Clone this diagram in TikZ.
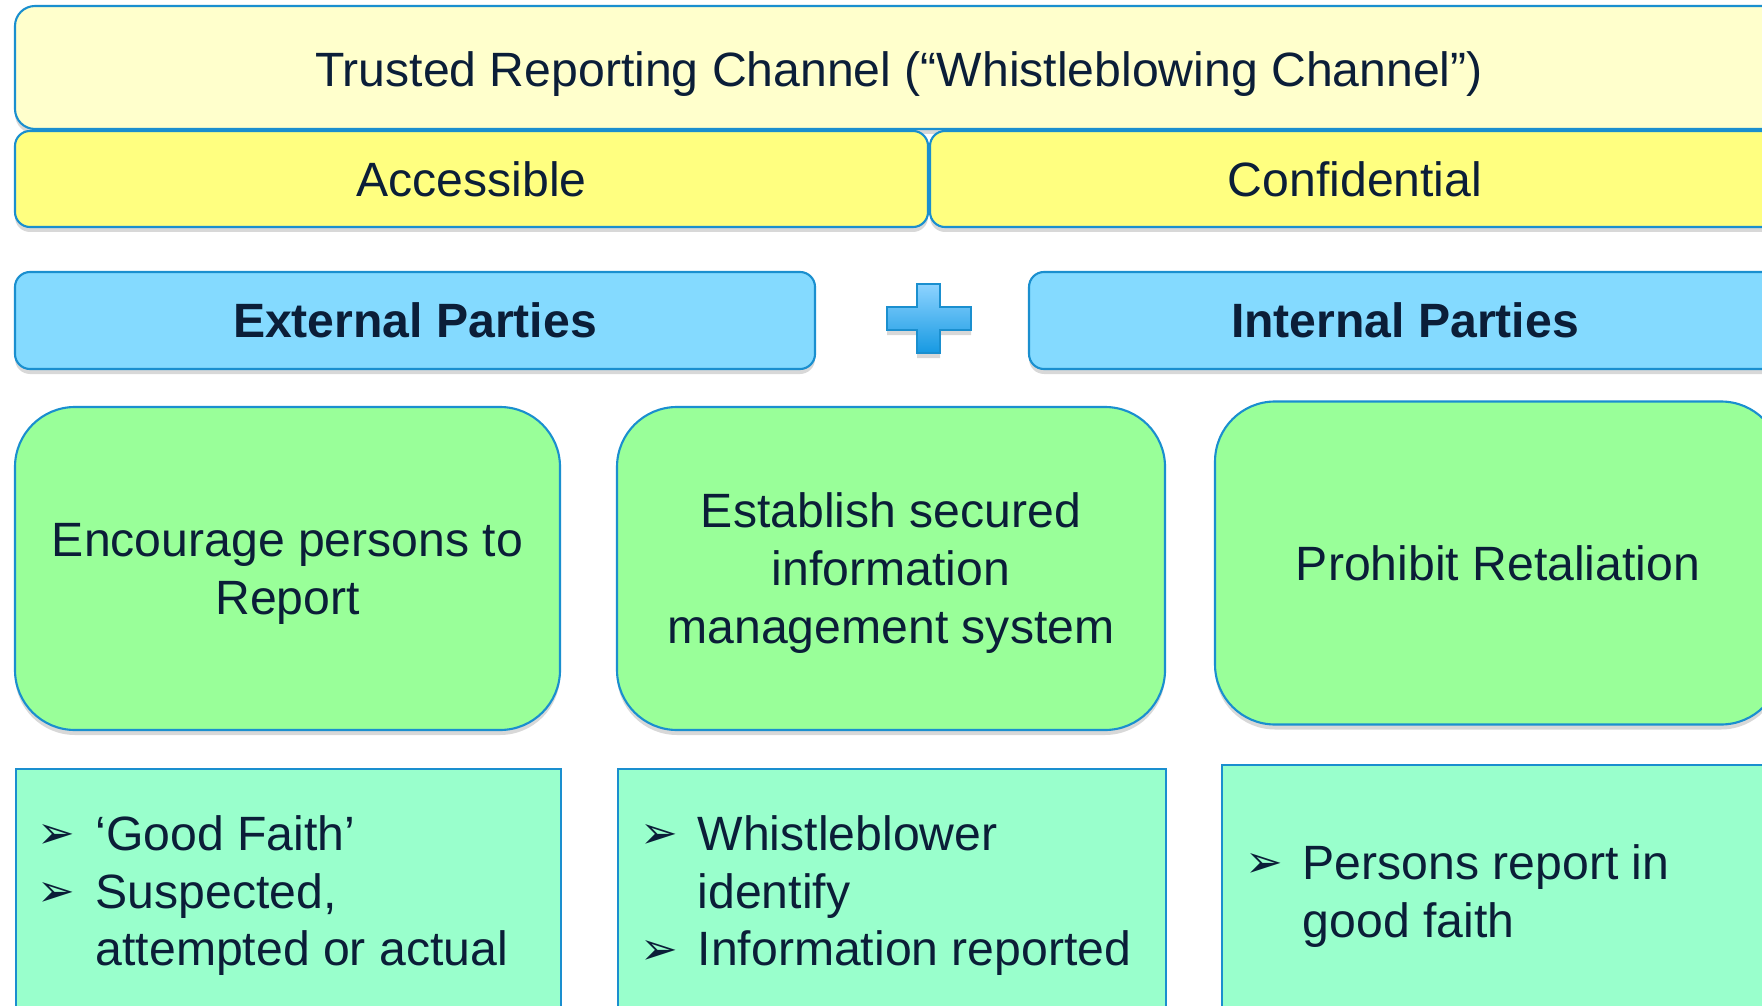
\documentclass[tikz,border=0pt]{standalone}
\usepackage{fontspec}
\setmainfont{Liberation Sans}
\newfontfamily\dingfont{DejaVu Sans}
\usetikzlibrary{shadows}

\definecolor{ink}{HTML}{0B1E38}
\definecolor{edge}{HTML}{1A8FCF}
\definecolor{paleyellow}{HTML}{FFFFCC}
\definecolor{brightyellow}{HTML}{FFFF80}
\definecolor{skyblue}{HTML}{84DAFF}
\definecolor{leafgreen}{HTML}{99FF99}
\definecolor{mintgreen}{HTML}{99FFCC}
\definecolor{plustop}{HTML}{8DD3FF}
\definecolor{plusbot}{HTML}{1699E2}

\newcommand\slidefont{\fontsize{13.7}{16.5}\selectfont}
\newcommand\arrowbullet{\raisebox{0.3pt}{\dingfont\fontsize{12.8}{14}\selectfont ➢}}

\tikzset{
  panel/.style={draw=edge, line width=0.6pt, rounded corners=0.2cm, inner sep=0pt,
    text=ink, font=\slidefont,
    drop shadow={shadow xshift=0pt, shadow yshift=-0.05cm, opacity=0.3}},
  header/.style={panel, fill=paleyellow, minimum height=1.23cm, text height=0.38cm, text depth=0pt},
  pillar/.style={panel, fill=brightyellow, minimum height=0.96cm, rounded corners=0.15cm},
  party/.style={panel, fill=skyblue, minimum height=0.97cm, rounded corners=0.15cm,
    font=\slidefont\bfseries},
  goal/.style={panel, fill=leafgreen, minimum height=3.23cm, rounded corners=0.6cm, align=center,
    text depth=0pt},
  detail/.style={panel, fill=mintgreen, rounded corners=0pt, minimum height=3.5cm, anchor=north west},
  points/.style={anchor=base west, text=ink, font=\slidefont, inner sep=0pt},
}

\begin{document}
\begin{tikzpicture}
    \path[use as bounding box, fill=white] (0,0) rectangle (17.62,-10.05);

    % channel and its two pillars
    \node[header, minimum width=17.68cm] (head) at (8.99,-0.675)
        {Trusted Reporting Channel (“Whistleblowing Channel”)};
    \node[pillar, minimum width=9.13cm] (acc) at (4.715,-1.79) {Accessible};
    \node[pillar, minimum width=8.50cm] (conf) at (13.55,-1.79) {Confidential};

    % parties
    \node[party, minimum width=8.00cm] (ext) at (4.15,-3.205) {External Parties};
    \node[party, minimum width=7.52cm] (int) at (14.05,-3.205) {Internal Parties};
    \shadedraw[top color=plustop, bottom color=plusbot, draw=edge, line width=0.6pt,
        drop shadow={shadow xshift=0pt, shadow yshift=-0.05cm, opacity=0.3}]
        (9.17,-2.84) -- (9.40,-2.84) -- (9.40,-3.07) -- (9.71,-3.07) -- (9.71,-3.30)
        -- (9.40,-3.30) -- (9.40,-3.53) -- (9.17,-3.53) -- (9.17,-3.30) -- (8.87,-3.30)
        -- (8.87,-3.07) -- (9.17,-3.07) -- cycle;

    % goals
    \node[goal, minimum width=5.45cm] (goalA) at (2.875,-5.685) {Encourage persons to\\Report};
    \node[goal, minimum width=5.48cm] (goalB) at (8.91,-5.685)
        {Establish secured\\information\\management system};
    \node[goal, minimum width=5.66cm] (goalC) at (14.98,-5.63) {Prohibit Retaliation};

    % details
    \node[detail, minimum width=5.45cm] (listA) at (0.15,-7.68) {};
    \node[detail, minimum width=5.48cm] (listB) at (6.17,-7.68) {};
    \node[detail, minimum width=5.60cm] (listC) at (12.21,-7.64) {};

    \node[points] (ptsA) at ([shift={(0.22,-0.82)}]listA.north west)
        {\begin{tabular}[t]{@{}p{0.58cm}@{}l@{}}
            \arrowbullet & ‘Good Faith’\\
            \arrowbullet & Suspected,\\
                         & attempted or actual
        \end{tabular}};
    \node[points] (ptsB) at ([shift={(0.23,-0.82)}]listB.north west)
        {\begin{tabular}[t]{@{}p{0.57cm}@{}l@{}}
            \arrowbullet & Whistleblower\\
                         & identify\\
            \arrowbullet & Information reported
        \end{tabular}};
    \node[points] (ptsC) at ([shift={(0.24,-1.15)}]listC.north west)
        {\begin{tabular}[t]{@{}p{0.57cm}@{}l@{}}
            \arrowbullet & Persons report in\\
                         & good faith
        \end{tabular}};
\end{tikzpicture}
\end{document}
